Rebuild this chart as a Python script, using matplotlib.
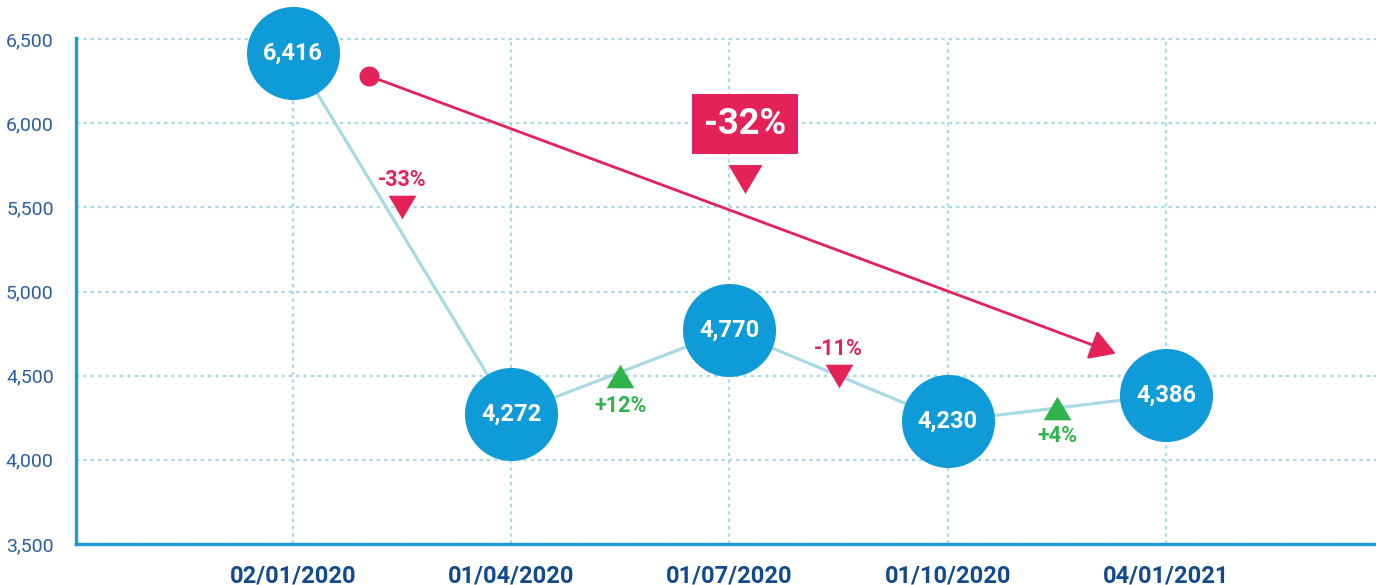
import matplotlib
matplotlib.use("Agg")
import matplotlib.pyplot as plt
from matplotlib import font_manager

# ---------------- data ----------------
dates = ["02/01/2020", "01/04/2020", "01/07/2020", "01/10/2020", "04/01/2021"]
values = [6416, 4272, 4770, 4230, 4386]
value_labels = ["6,416", "4,272", "4,770", "4,230", "4,386"]

change_labels = ["-33%", "+12%", "-11%", "+4%"]
change_up = [False, True, False, True]
change_marker_y = [5500, 4500, 4500, 4310]
change_text_y = [5660, 4320, 4660, 4140]

yticks = [3500, 4000, 4500, 5000, 5500, 6000, 6500]
ytick_labels = ["3,500", "4,000", "4,500", "5,000", "5,500", "6,000", "6,500"]

overall_label = "-32%"
overall_label_pos = (2.07, 5994)
overall_marker_pos = (2.07, 5667)
arrow_start = (0.35, 6280)
arrow_end = (3.77, 4631)

# ---------------- style ----------------
names = {f.name for f in font_manager.fontManager.ttflist}
narrow = "Liberation Sans Narrow" if "Liberation Sans Narrow" in names else "Roboto"
main_font = "Roboto" if "Roboto" in names else "DejaVu Sans"

BLUE = "#0f9bd7"
LINE = "#aad9e6"
GRID = "#a9d9e5"
SPINE = "#1a9ad6"
RED = "#e42259"
GREEN = "#2fb34a"
YTXT = "#2a5d9f"
XTXT = "#134a8e"

fig = plt.figure(figsize=(13.76, 5.85), dpi=100)
ax = fig.add_axes([76 / 1376, 41 / 585, 1 - 76 / 1376, 505.8 / 585])
ax.set_xlim(-0.994, 4.962)
ax.set_ylim(3500, 6505)

x = list(range(len(values)))

# grid
ax.set_yticks(yticks)
ax.set_yticklabels(ytick_labels)
ax.set_xticks(x)
ax.set_xticklabels(dates)
ax.grid(True, color=GRID, linestyle=(0, (1.5, 1.8)), linewidth=1.6, zorder=0)
ax.set_axisbelow(True)

for s in ["top", "right"]:
    ax.spines[s].set_visible(False)
for s in ["left", "bottom"]:
    ax.spines[s].set_color(SPINE)
    ax.spines[s].set_linewidth(2.4)
    ax.spines[s].set_zorder(5)

ax.tick_params(axis="both", length=0)
ax.tick_params(axis="y", pad=16, labelcolor=YTXT)
ax.tick_params(axis="x", pad=14.5, labelcolor=XTXT)
for lab in ax.get_yticklabels():
    lab.set_fontfamily(narrow)
    lab.set_fontsize(14)
for lab in ax.get_xticklabels():
    lab.set_fontfamily(narrow)
    lab.set_fontsize(17)
    lab.set_fontweight("bold")

# connecting line and circles
ax.plot(x, values, color=LINE, linewidth=2.3, zorder=2, clip_on=False)
ax.plot(x, values, linestyle="none", marker="o", markersize=67,
        markerfacecolor=BLUE, markeredgecolor="none", zorder=4, clip_on=False)
for xi, v, lab in zip(x, values, value_labels):
    ax.text(xi, v, lab, ha="center", va="center", color="white",
            fontsize=17, fontweight="bold", family=main_font, zorder=6)

# change indicators
down_tri = [(-1, 0.85), (1, 0.85), (0, -0.85)]
up_tri = [(-1, -0.85), (1, -0.85), (0, 0.85)]
for i, (lab, up, my, ty) in enumerate(zip(change_labels, change_up,
                                            change_marker_y, change_text_y)):
    xm = i + 0.5
    col = GREEN if up else RED
    ax.plot([xm], [my], linestyle="none", marker=up_tri if up else down_tri,
            markersize=20, color=col, markeredgecolor="none", zorder=3)
    ax.text(xm, ty, lab, ha="center", va="center", color=col,
            fontsize=15.5, fontweight="bold", family=main_font, zorder=6)

# overall change arrow
ax.annotate("", xy=arrow_end, xytext=arrow_start,
            arrowprops=dict(arrowstyle="-|>,head_length=1.55,head_width=0.92",
                            color=RED, lw=2.0, shrinkA=0, shrinkB=0,
                            mutation_scale=10),
            zorder=3)
ax.plot([arrow_start[0]], [arrow_start[1]], marker="o", markersize=14.4,
        color=RED, markeredgecolor="none", zorder=3)

ax.text(overall_label_pos[0], overall_label_pos[1], overall_label,
        ha="center", va="center", color="white", fontsize=26,
        fontweight="bold", family=main_font, zorder=6,
        bbox=dict(boxstyle="square,pad=0.33", facecolor=RED, edgecolor="none"))
ax.plot([overall_marker_pos[0]], [overall_marker_pos[1]], linestyle="none",
        marker=down_tri, markersize=24.5, color=RED, markeredgecolor="none",
        zorder=3)

fig.savefig("out.png", dpi=100, facecolor="white")
